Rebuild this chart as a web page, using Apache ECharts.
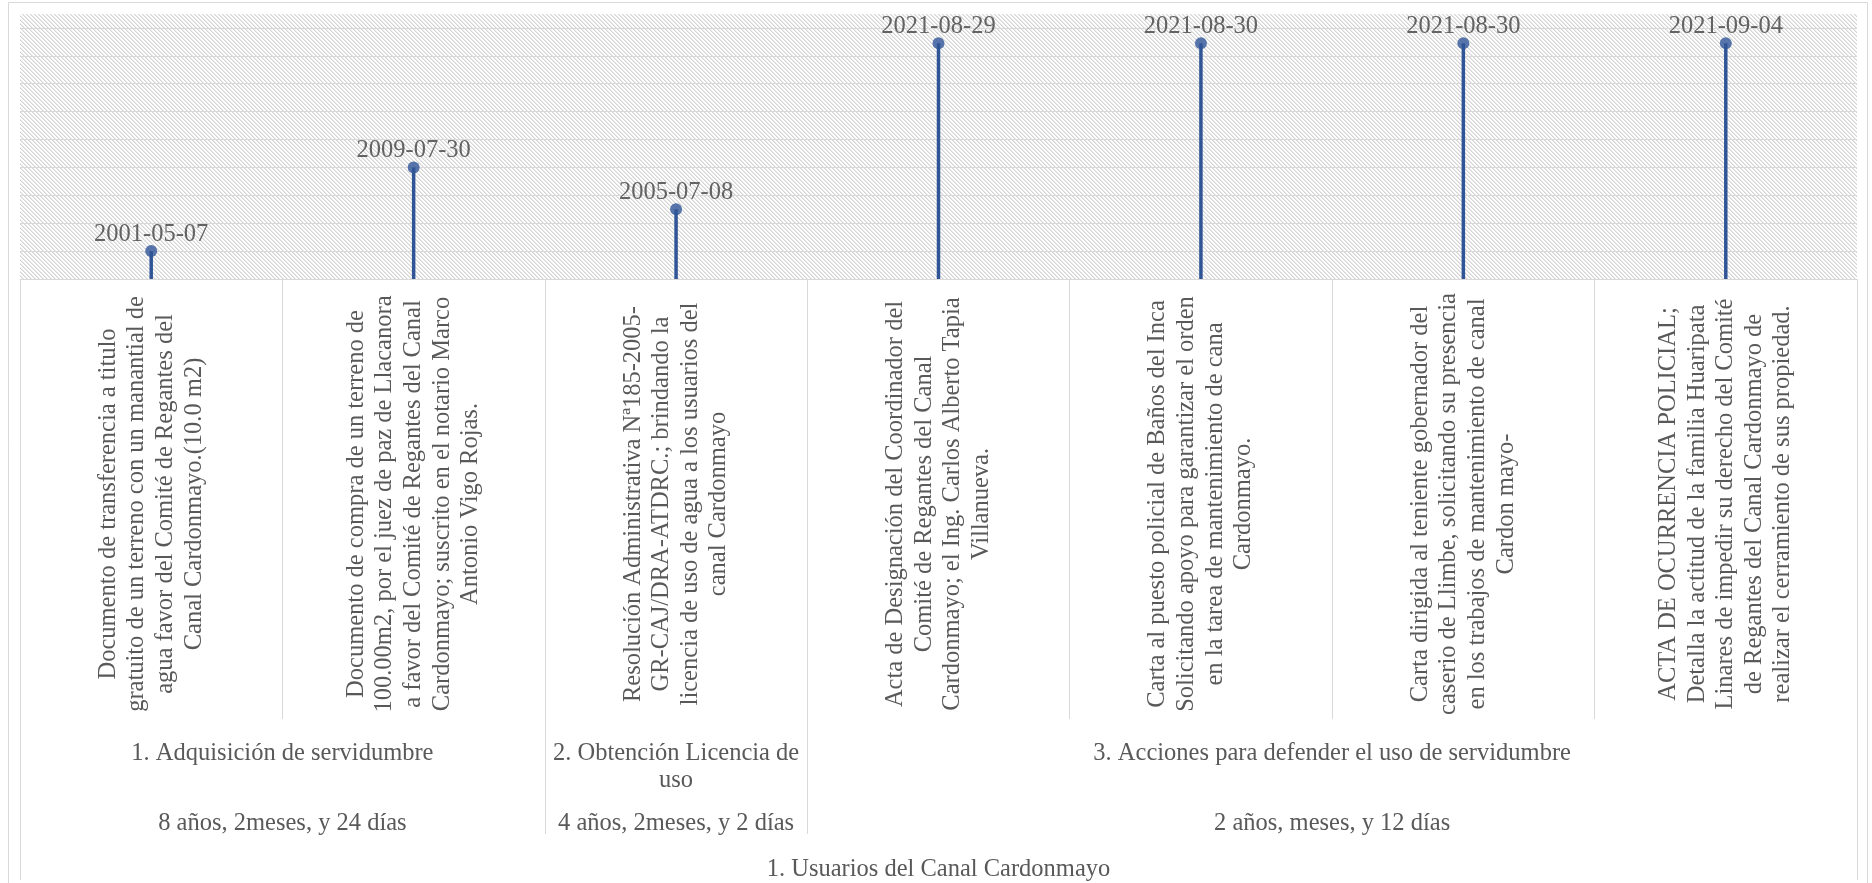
<!DOCTYPE html>
<html>
<head>
<meta charset="utf-8">
<script src="https://cdn.jsdelivr.net/npm/echarts@6/dist/echarts.min.js"></script>
<style>
  html, body { margin: 0; padding: 0; background: #fff; }
  #chart { width: 1872px; height: 883px; }
</style>
</head>
<body>
<div id="chart"></div>
<script>
// eventos (nivel 1 del eje)
var events = [
  'Documento de transferencia a titulo\ngratuito de un terreno con un manantial de\nagua favor del Comité de Regantes del\nCanal Cardonmayo.(10.0 m2)',
  'Documento de compra de un terreno de\n100.00m2, por el juez de paz de Llacanora\na favor del Comité de Regantes del Canal\nCardonmayo; suscrito en el notario Marco\nAntonio Vigo Rojas.',
  'Resolución Administrativa Nª185-2005-\nGR-CAJ/DRA-ATDRC.; brindando la\nlicencia de uso de agua a los usuarios del\ncanal Cardonmayo',
  'Acta de Designación del Coordinador del\nComité de Regantes del Canal\nCardonmayo; el Ing. Carlos Alberto Tapia\nVillanueva.',
  'Carta al puesto policial de Baños del Inca\nSolicitando apoyo para garantizar el orden\nen la tarea de mantenimiento de cana\nCardonmayo.',
  'Carta dirigida al teniente gobernador del\ncaserio de Llimbe, solicitando su presencia\nen los trabajos de mantenimiento de canal\nCardon mayo-',
  'ACTA DE OCURRENCIA POLICIAL;\nDetalla la actitud de la familia Huaripata\nLinares de impedir su derecho del Comité\nde Regantes del Canal Cardonmayo de\nrealizar el cerramiento de sus propiedad.'
];
var dates = ['2001-05-07', '2009-07-30', '2005-07-08', '2021-08-29', '2021-08-30', '2021-08-30', '2021-09-04'];
var heights = [1, 4, 2.5, 8.45, 8.45, 8.45, 8.45];

// niveles 2, 3 y 4 (grupos de categorias: inicio, fin)
var stages = ['1. Adquisición de servidumbre', '2. Obtención Licencia de\nuso', '3. Acciones para defender el uso de servidumbre'];
var durations = ['8 años, 2meses, y 24 días', '4 años, 2meses, y 2 días', '2 años, meses, y 12 días'];
var stageSpans = [[0, 2], [2, 3], [3, 7]];
var topGroup = ['1. Usuarios del Canal Cardonmayo'];
var topSpans = [[0, 7]];

var font = "'Liberation Serif', 'Times New Roman', serif";
var lineColor = '#d9d9d9';

// medias posiciones: slot i = i/2 categorias
var nSlots = events.length * 2 + 1;
var slots = [];
for (var i = 0; i < nSlots; i++) slots.push(String(i));

function slotLabels(names, spans) {
  var m = {};
  spans.forEach(function (s, k) { m[s[0] + s[1]] = names[k]; });
  return m;
}
function slotEdges(spans) {
  var m = {};
  spans.forEach(function (s) { m[s[0] * 2] = true; m[s[1] * 2] = true; });
  return m;
}
var stageLab = slotLabels(stages, stageSpans);
var durLab = slotLabels(durations, stageSpans);
var topLab = slotLabels(topGroup, topSpans);
var stageEdge = slotEdges(stageSpans);
var topEdge = slotEdges(topSpans);

// fondo rayado
var pc = document.createElement('canvas');
pc.width = 4; pc.height = 4;
var ctx = pc.getContext('2d');
ctx.fillStyle = '#ffffff';
ctx.fillRect(0, 0, 4, 4);
for (var j = 0; j < 4; j++) {
  ctx.fillStyle = '#d4d4d4';
  ctx.fillRect(j, j, 1, 1);
  ctx.fillStyle = '#e8e8e8';
  ctx.fillRect((j + 1) % 4, j, 1, 1);
}

function slotAxis(offset, labels, margin, edges, tickLen) {
  return {
    type: 'category',
    position: 'bottom',
    offset: offset,
    boundaryGap: false,
    data: slots,
    axisLine: { show: false },
    axisTick: {
      show: !!edges,
      length: tickLen || 0,
      interval: function (idx) { return !!(edges && edges[idx]); },
      lineStyle: { color: lineColor, width: 1 }
    },
    axisLabel: {
      interval: 0,
      margin: margin,
      fontFamily: font,
      fontSize: 24.5,
      lineHeight: 27,
      color: '#595959',
      align: 'center',
      formatter: function (v, idx) { return labels[idx] || ''; }
    },
    splitLine: { show: false }
  };
}

var chart = echarts.init(document.getElementById('chart'));
chart.setOption({
  backgroundColor: '#ffffff',
  animation: false,
  graphic: [{
    type: 'rect',
    shape: { x: 8.5, y: 2.5, width: 1859, height: 900 },
    style: { fill: 'none', stroke: lineColor, lineWidth: 1 },
    silent: true
  }],
  grid: {
    left: 20, right: 15, top: 14, bottom: 600.5,
    show: true,
    borderWidth: 0,
    backgroundColor: { image: pc, repeat: 'repeat' }
  },
  xAxis: [
    {
      type: 'category',
      data: events,
      axisLine: { lineStyle: { color: lineColor, width: 1 } },
      axisTick: { show: true, length: 440, interval: 0, lineStyle: { color: lineColor, width: 1 } },
      axisLabel: {
        interval: 0,
        rotate: 90,
        align: 'center',
        verticalAlign: 'middle',
        margin: 225,
        fontFamily: font,
        fontSize: 24.5,
        lineHeight: 28.6,
        color: '#595959'
      }
    },
    slotAxis(440, stageLab, 21, stageEdge, 115),
    slotAxis(440, durLab, 91, null, 0),
    slotAxis(0, topLab, 577, topEdge, 601)
  ],
  yAxis: {
    type: 'value',
    min: 0,
    max: 9.5,
    interval: 1,
    axisLabel: { show: false },
    axisTick: { show: false },
    axisLine: { show: false },
    splitLine: { show: true, showMaxLine: false, lineStyle: { color: lineColor, width: 1 } }
  },
  series: [
    {
      type: 'bar',
      data: heights,
      barWidth: 3.5,
      itemStyle: { color: '#2f5597' },
      silent: true,
      z: 2
    },
    {
      type: 'scatter',
      data: heights,
      symbol: 'circle',
      symbolSize: 12,
      itemStyle: { color: '#2f5597' },
      z: 3,
      label: {
        show: true,
        position: 'top',
        distance: -1.5,
        fontFamily: font,
        fontSize: 24.5,
        color: '#404040',
        formatter: function (p) { return dates[p.dataIndex]; }
      }
    }
  ]
});
</script>
</body>
</html>
